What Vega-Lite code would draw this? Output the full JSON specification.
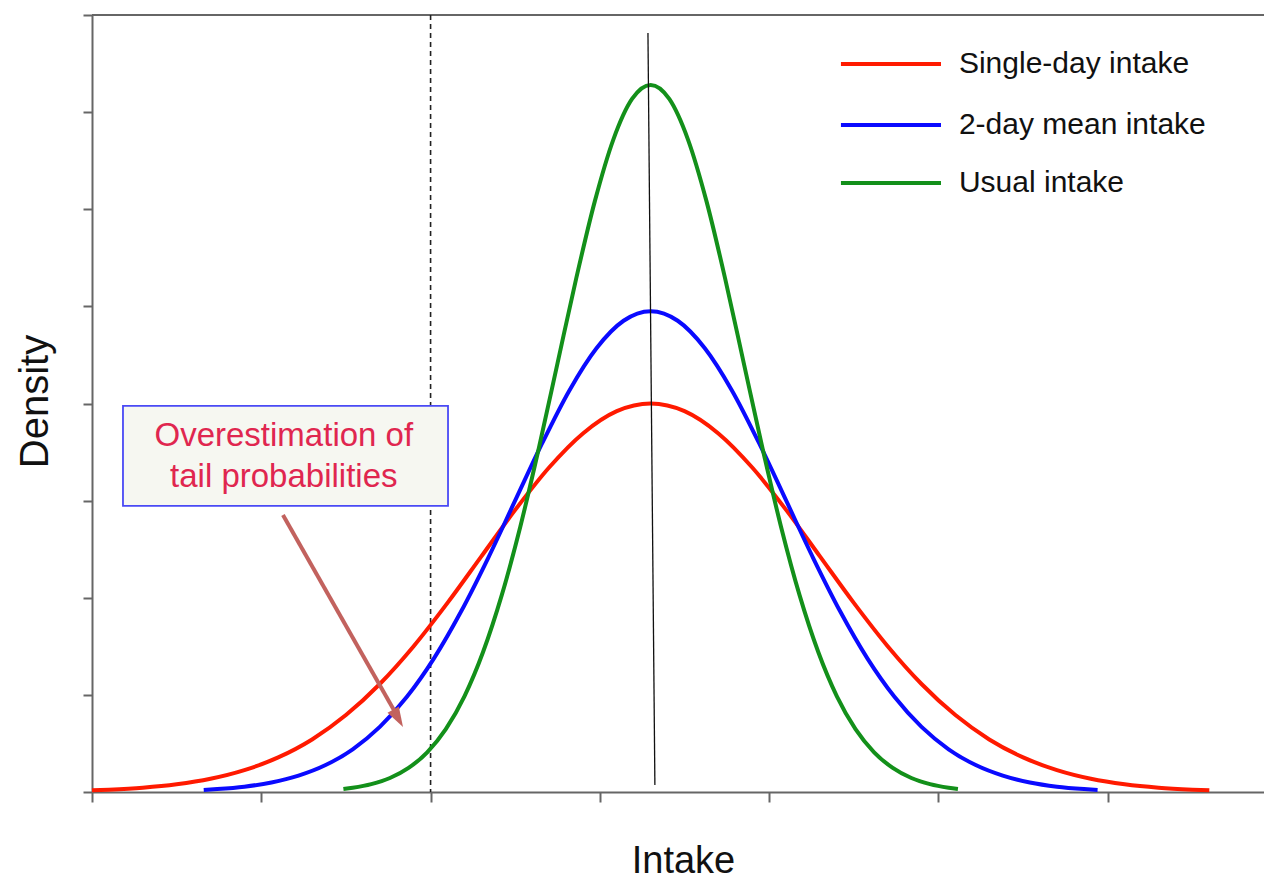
{
  "$schema": "https://vega.github.io/schema/vega-lite/v6.json",
  "width": 1172,
  "height": 777,
  "autosize": {"type": "none"},
  "padding": {"left": 92, "top": 15, "right": 0, "bottom": 92},
  "background": "white",
  "config": {
    "view": {"stroke": null},
    "font": "Liberation Sans",
    "axis": {"grid": false}
  },
  "datasets": {
    "curves": [
      {"series": "Single-day intake", "x": 0.0, "y": 0.017},
      {"series": "Single-day intake", "x": 0.1, "y": 0.024},
      {"series": "Single-day intake", "x": 0.3, "y": 0.044},
      {"series": "Single-day intake", "x": 0.5, "y": 0.079},
      {"series": "Single-day intake", "x": 0.7, "y": 0.136},
      {"series": "Single-day intake", "x": 0.9, "y": 0.225},
      {"series": "Single-day intake", "x": 1.1, "y": 0.356},
      {"series": "Single-day intake", "x": 1.3, "y": 0.541},
      {"series": "Single-day intake", "x": 1.5, "y": 0.792},
      {"series": "Single-day intake", "x": 1.7, "y": 1.112},
      {"series": "Single-day intake", "x": 1.9, "y": 1.501},
      {"series": "Single-day intake", "x": 2.1, "y": 1.947},
      {"series": "Single-day intake", "x": 2.3, "y": 2.426},
      {"series": "Single-day intake", "x": 2.5, "y": 2.905},
      {"series": "Single-day intake", "x": 2.7, "y": 3.341},
      {"series": "Single-day intake", "x": 2.9, "y": 3.692},
      {"series": "Single-day intake", "x": 3.1, "y": 3.921},
      {"series": "Single-day intake", "x": 3.3, "y": 4.0},
      {"series": "Single-day intake", "x": 3.5, "y": 3.921},
      {"series": "Single-day intake", "x": 3.7, "y": 3.692},
      {"series": "Single-day intake", "x": 3.9, "y": 3.341},
      {"series": "Single-day intake", "x": 4.1, "y": 2.905},
      {"series": "Single-day intake", "x": 4.3, "y": 2.426},
      {"series": "Single-day intake", "x": 4.5, "y": 1.947},
      {"series": "Single-day intake", "x": 4.7, "y": 1.501},
      {"series": "Single-day intake", "x": 4.9, "y": 1.112},
      {"series": "Single-day intake", "x": 5.1, "y": 0.792},
      {"series": "Single-day intake", "x": 5.3, "y": 0.541},
      {"series": "Single-day intake", "x": 5.5, "y": 0.356},
      {"series": "Single-day intake", "x": 5.7, "y": 0.225},
      {"series": "Single-day intake", "x": 5.9, "y": 0.136},
      {"series": "Single-day intake", "x": 6.1, "y": 0.079},
      {"series": "Single-day intake", "x": 6.3, "y": 0.044},
      {"series": "Single-day intake", "x": 6.5, "y": 0.024},
      {"series": "Single-day intake", "x": 6.6, "y": 0.017},
      {"series": "2-day mean intake", "x": 0.66, "y": 0.021},
      {"series": "2-day mean intake", "x": 0.74, "y": 0.030},
      {"series": "2-day mean intake", "x": 0.90, "y": 0.055},
      {"series": "2-day mean intake", "x": 1.06, "y": 0.098},
      {"series": "2-day mean intake", "x": 1.22, "y": 0.169},
      {"series": "2-day mean intake", "x": 1.38, "y": 0.278},
      {"series": "2-day mean intake", "x": 1.54, "y": 0.440},
      {"series": "2-day mean intake", "x": 1.70, "y": 0.670},
      {"series": "2-day mean intake", "x": 1.86, "y": 0.980},
      {"series": "2-day mean intake", "x": 2.02, "y": 1.376},
      {"series": "2-day mean intake", "x": 2.18, "y": 1.858},
      {"series": "2-day mean intake", "x": 2.34, "y": 2.409},
      {"series": "2-day mean intake", "x": 2.50, "y": 3.002},
      {"series": "2-day mean intake", "x": 2.66, "y": 3.594},
      {"series": "2-day mean intake", "x": 2.82, "y": 4.135},
      {"series": "2-day mean intake", "x": 2.98, "y": 4.569},
      {"series": "2-day mean intake", "x": 3.14, "y": 4.852},
      {"series": "2-day mean intake", "x": 3.30, "y": 4.950},
      {"series": "2-day mean intake", "x": 3.46, "y": 4.852},
      {"series": "2-day mean intake", "x": 3.62, "y": 4.569},
      {"series": "2-day mean intake", "x": 3.78, "y": 4.135},
      {"series": "2-day mean intake", "x": 3.94, "y": 3.594},
      {"series": "2-day mean intake", "x": 4.10, "y": 3.002},
      {"series": "2-day mean intake", "x": 4.26, "y": 2.409},
      {"series": "2-day mean intake", "x": 4.42, "y": 1.858},
      {"series": "2-day mean intake", "x": 4.58, "y": 1.376},
      {"series": "2-day mean intake", "x": 4.74, "y": 0.980},
      {"series": "2-day mean intake", "x": 4.90, "y": 0.670},
      {"series": "2-day mean intake", "x": 5.06, "y": 0.440},
      {"series": "2-day mean intake", "x": 5.22, "y": 0.278},
      {"series": "2-day mean intake", "x": 5.38, "y": 0.169},
      {"series": "2-day mean intake", "x": 5.54, "y": 0.098},
      {"series": "2-day mean intake", "x": 5.70, "y": 0.055},
      {"series": "2-day mean intake", "x": 5.86, "y": 0.030},
      {"series": "2-day mean intake", "x": 5.94, "y": 0.021},
      {"series": "Usual intake", "x": 1.485, "y": 0.031},
      {"series": "Usual intake", "x": 1.54, "y": 0.044},
      {"series": "Usual intake", "x": 1.65, "y": 0.081},
      {"series": "Usual intake", "x": 1.76, "y": 0.144},
      {"series": "Usual intake", "x": 1.87, "y": 0.248},
      {"series": "Usual intake", "x": 1.98, "y": 0.409},
      {"series": "Usual intake", "x": 2.09, "y": 0.647},
      {"series": "Usual intake", "x": 2.20, "y": 0.985},
      {"series": "Usual intake", "x": 2.31, "y": 1.441},
      {"series": "Usual intake", "x": 2.42, "y": 2.024},
      {"series": "Usual intake", "x": 2.53, "y": 2.732},
      {"series": "Usual intake", "x": 2.64, "y": 3.544},
      {"series": "Usual intake", "x": 2.75, "y": 4.416},
      {"series": "Usual intake", "x": 2.86, "y": 5.286},
      {"series": "Usual intake", "x": 2.97, "y": 6.081},
      {"series": "Usual intake", "x": 3.08, "y": 6.720},
      {"series": "Usual intake", "x": 3.19, "y": 7.136},
      {"series": "Usual intake", "x": 3.30, "y": 7.280},
      {"series": "Usual intake", "x": 3.41, "y": 7.136},
      {"series": "Usual intake", "x": 3.52, "y": 6.720},
      {"series": "Usual intake", "x": 3.63, "y": 6.081},
      {"series": "Usual intake", "x": 3.74, "y": 5.286},
      {"series": "Usual intake", "x": 3.85, "y": 4.416},
      {"series": "Usual intake", "x": 3.96, "y": 3.544},
      {"series": "Usual intake", "x": 4.07, "y": 2.732},
      {"series": "Usual intake", "x": 4.18, "y": 2.024},
      {"series": "Usual intake", "x": 4.29, "y": 1.441},
      {"series": "Usual intake", "x": 4.40, "y": 0.985},
      {"series": "Usual intake", "x": 4.51, "y": 0.647},
      {"series": "Usual intake", "x": 4.62, "y": 0.409},
      {"series": "Usual intake", "x": 4.73, "y": 0.248},
      {"series": "Usual intake", "x": 4.84, "y": 0.144},
      {"series": "Usual intake", "x": 4.95, "y": 0.081},
      {"series": "Usual intake", "x": 5.06, "y": 0.044},
      {"series": "Usual intake", "x": 5.115, "y": 0.031}
    ],
    "legendRows": [
      {"series": "Single-day intake", "y": 7.496},
      {"series": "2-day mean intake", "y": 6.867},
      {"series": "Usual intake", "y": 6.270}
    ],
    "meanLine": [
      {"x": 3.284, "y": 7.815, "x2": 3.325, "y2": 0.072}
    ],
    "noteBox": [
      {"x": 0.183, "x2": 2.103, "y": 3.975, "y2": 2.945}
    ],
    "noteText": [
      {"label": "Overestimation of\ntail probabilities", "x": 1.133, "y": 3.665}
    ],
    "arrowShaft": [
      {"x": 1.128, "y": 2.852, "x2": 1.790, "y2": 0.824}
    ],
    "arrowHead": [
      {"x": 1.808, "y": 0.759}
    ]
  },
  "layer": [
    {
      "data": {"values": [{}]},
      "mark": {"type": "rule", "color": "#666666", "strokeWidth": 2},
      "encoding": {
        "y": {
          "datum": 8,
          "type": "quantitative",
          "scale": {"domain": [0, 8], "nice": false, "zero": false},
          "axis": {
            "values": [0, 1, 2, 3, 4, 5, 6, 7, 8],
            "labels": false,
            "tickSize": 9,
            "tickColor": "#666666",
            "tickWidth": 2,
            "domainColor": "#666666",
            "domainWidth": 2,
            "title": "Density",
            "titleFont": "Liberation Sans",
            "titleFontSize": 40,
            "titleFontWeight": "normal",
            "titleColor": "#111111",
            "titleX": -45,
            "titleY": 386,
            "titleAlign": "center",
            "titleBaseline": "alphabetic",
            "titleAngle": -90
          }
        }
      }
    },
    {
      "data": {"values": [{}]},
      "mark": {"type": "rule", "color": "#222222", "strokeWidth": 1.6, "strokeDash": [5, 4]},
      "encoding": {
        "x": {
          "datum": 2,
          "type": "quantitative",
          "scale": {"domain": [0, 6.923], "nice": false, "zero": false},
          "axis": {
            "values": [0, 1, 2, 3, 4, 5, 6],
            "labels": false,
            "tickSize": 10,
            "tickColor": "#666666",
            "tickWidth": 2,
            "domainColor": "#666666",
            "domainWidth": 2,
            "title": "Intake",
            "titleFont": "Liberation Sans",
            "titleFontSize": 38,
            "titleFontWeight": "normal",
            "titleColor": "#111111",
            "titleX": 591,
            "titleY": 80,
            "titleAlign": "center",
            "titleBaseline": "alphabetic"
          }
        }
      }
    },
    {
      "data": {"name": "curves"},
      "mark": {"type": "line", "strokeWidth": 4, "interpolate": "monotone"},
      "encoding": {
        "x": {"field": "x", "type": "quantitative"},
        "y": {"field": "y", "type": "quantitative"},
        "color": {
          "field": "series",
          "type": "nominal",
          "scale": {
            "domain": ["Single-day intake", "2-day mean intake", "Usual intake"],
            "range": ["#ff1a00", "#0a0aff", "#13901a"]
          },
          "legend": null
        },
        "order": {"field": "x", "type": "quantitative"}
      }
    },
    {
      "data": {"name": "meanLine"},
      "mark": {"type": "rule", "color": "#111111", "strokeWidth": 1.3},
      "encoding": {
        "x": {"field": "x", "type": "quantitative"},
        "y": {"field": "y", "type": "quantitative"},
        "x2": {"field": "x2"},
        "y2": {"field": "y2"}
      }
    },
    {
      "data": {"name": "noteBox"},
      "mark": {"type": "rect", "fill": "#f6f7f1", "stroke": "#4a4af5", "strokeWidth": 1.8},
      "encoding": {
        "x": {"field": "x", "type": "quantitative"},
        "x2": {"field": "x2"},
        "y": {"field": "y", "type": "quantitative"},
        "y2": {"field": "y2"}
      }
    },
    {
      "data": {"name": "noteText"},
      "mark": {
        "type": "text",
        "font": "Liberation Sans",
        "fontSize": 33,
        "color": "#e0264f",
        "align": "center",
        "baseline": "middle",
        "lineBreak": "\n",
        "lineHeight": 41
      },
      "encoding": {
        "x": {"field": "x", "type": "quantitative"},
        "y": {"field": "y", "type": "quantitative"},
        "text": {"field": "label"}
      }
    },
    {
      "data": {"name": "arrowShaft"},
      "mark": {"type": "rule", "color": "#c2625e", "strokeWidth": 4},
      "encoding": {
        "x": {"field": "x", "type": "quantitative"},
        "y": {"field": "y", "type": "quantitative"},
        "x2": {"field": "x2"},
        "y2": {"field": "y2"}
      }
    },
    {
      "data": {"name": "arrowHead"},
      "mark": {
        "type": "point",
        "shape": "M0,-1L0.65,1L-0.65,1Z",
        "size": 400,
        "angle": 150.5,
        "filled": true,
        "color": "#c2625e",
        "opacity": 1
      },
      "encoding": {
        "x": {"field": "x", "type": "quantitative"},
        "y": {"field": "y", "type": "quantitative"}
      }
    },
    {
      "data": {"name": "legendRows"},
      "mark": {"type": "rule", "strokeWidth": 4},
      "encoding": {
        "x": {"datum": 4.424, "type": "quantitative"},
        "x2": {"datum": 5.015},
        "y": {"field": "y", "type": "quantitative"},
        "color": {"field": "series", "type": "nominal", "legend": null}
      }
    },
    {
      "data": {"name": "legendRows"},
      "mark": {
        "type": "text",
        "font": "Liberation Sans",
        "fontSize": 30,
        "color": "#111111",
        "align": "left",
        "baseline": "middle"
      },
      "encoding": {
        "x": {"datum": 5.121, "type": "quantitative"},
        "y": {"field": "y", "type": "quantitative"},
        "text": {"field": "series"}
      }
    }
  ]
}
